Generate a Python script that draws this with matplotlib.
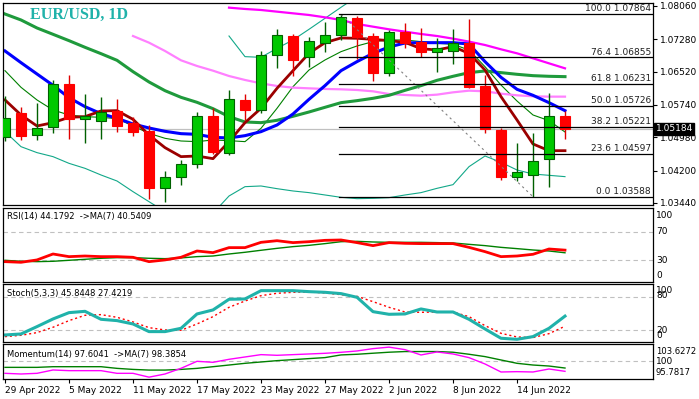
import matplotlib.pyplot as plt
import matplotlib.transforms as mtransforms
import numpy as np

plt.rcParams['font.family'] = 'DejaVu Sans'

nan = np.nan

# EUR/USD daily bars, 29 Apr - 17 Jun 2022
dates = ['29 Apr 2022', '5 May 2022', '11 May 2022', '17 May 2022', '23 May 2022',
         '27 May 2022', '2 Jun 2022', '8 Jun 2022', '14 Jun 2022']

opens = [1.0498, 1.0554, 1.0503, 1.0522, 1.0622, 1.0540, 1.0537, 1.0560, 1.0531, 1.0513,
         1.0378, 1.0406, 1.0435, 1.0548, 1.0462, 1.0586, 1.0561, 1.0691, 1.0736, 1.0686,
         1.0719, 1.0737, 1.0777, 1.0736, 1.0648, 1.0746, 1.0722, 1.0699, 1.0701, 1.0720,
         1.0618, 1.0515, 1.0406, 1.0410, 1.0447, 1.0548]
highs = [1.0594, 1.0570, 1.0578, 1.0633, 1.0644, 1.0599, 1.0593, 1.0588, 1.0546, 1.0527,
         1.0419, 1.0445, 1.0557, 1.0566, 1.0609, 1.0600, 1.0701, 1.0752, 1.0740, 1.0734,
         1.0769, 1.07864, 1.0783, 1.0742, 1.0750, 1.0765, 1.0754, 1.0730, 1.0751, 1.0775,
         1.0644, 1.0521, 1.0485, 1.0509, 1.0601, 1.0560]
lows = [1.0490, 1.0492, 1.0492, 1.0508, 1.0493, 1.0484, 1.0495, 1.0511, 1.0501, 1.0353,
        1.0347, 1.0386, 1.0427, 1.0459, 1.0457, 1.0539, 1.0554, 1.0661, 1.0642, 1.0664,
        1.0699, 1.0727, 1.0681, 1.0629, 1.0642, 1.0707, 1.0686, 1.0652, 1.0670, 1.0613,
        1.0508, 1.0398, 1.0396, 1.03588, 1.0381, 1.0493]
closes = [1.0543, 1.0500, 1.0519, 1.0622, 1.0540, 1.0548, 1.0558, 1.0525, 1.0511, 1.0378,
          1.0404, 1.0435, 1.0548, 1.0464, 1.0587, 1.0561, 1.0691, 1.0738, 1.0679, 1.0724,
          1.0738, 1.0780, 1.0734, 1.0648, 1.0746, 1.0720, 1.0697, 1.0707, 1.0719, 1.0617,
          1.0517, 1.0406, 1.0416, 1.0443, 1.0548, 1.05184]
last_price = 1.05184

# moving averages
ma_red = [1.05856, 1.05504, 1.05246, 1.05324, 1.05449, 1.05465, 1.05598, 1.05606, 1.05402, 1.05035,
          1.04738, 1.04527, 1.04542, 1.04480, 1.04879, 1.05324, 1.05660, 1.06129, 1.06543, 1.06950,
          1.07200, 1.07310, 1.07302, 1.07278, 1.07247, 1.07208, 1.07059, 1.07028, 1.07106, 1.06950,
          1.06559, 1.05934, 1.05387, 1.04824, 1.04667, 1.04667]
ma_blue = [1.07005, 1.06731, 1.06465, 1.06200, 1.05910, 1.05699, 1.05535, 1.05426, 1.05293, 1.05199,
           1.05121, 1.05066, 1.05050, 1.04980, 1.04965, 1.05019, 1.05113, 1.05269, 1.05527, 1.05871,
           1.06192, 1.06543, 1.06755, 1.06950, 1.07099, 1.07192, 1.07200, 1.07200, 1.07200, 1.07169,
           1.06755, 1.06387, 1.06106, 1.05965, 1.05793, 1.05605]
ma_green = [1.07872, 1.07732, 1.07544, 1.07396, 1.07247, 1.07091, 1.06942, 1.06786, 1.06520, 1.06278,
            1.06074, 1.05918, 1.05801, 1.05652, 1.05465, 1.05340, 1.05324, 1.05379, 1.05473, 1.05574,
            1.05684, 1.05793, 1.05840, 1.05895, 1.05965, 1.06082, 1.06192, 1.06317, 1.06411, 1.06497,
            1.06536, 1.06497, 1.06458, 1.06426, 1.06411, 1.06403]
ma_pink = [nan, nan, nan, nan, nan, nan, nan, nan, 1.07356, 1.07200,
           1.07005, 1.06786, 1.06653, 1.06543, 1.06418, 1.06325, 1.06246, 1.06184, 1.06145, 1.06129,
           1.06114, 1.06106, 1.06090, 1.06059, 1.05996, 1.05973, 1.05957, 1.05981, 1.06035, 1.06074,
           1.06059, 1.06004, 1.05965, 1.05942, 1.05934, 1.05934]
ma_magenta = [nan, nan, nan, nan, nan, nan, nan, nan, nan, nan,
              nan, nan, nan, nan, 1.08021, 1.07990, 1.07966, 1.07927, 1.07888, 1.07849,
              1.07794, 1.07732, 1.07638, 1.07575, 1.07513, 1.07458, 1.07403, 1.07356, 1.07294, 1.07224,
              1.07145, 1.07044, 1.06950, 1.06833, 1.06715, 1.06598]
ma_thin = [1.06543, 1.06153, 1.05856, 1.05621, 1.05504, 1.05465, 1.05449, 1.05418, 1.05246, 1.05074,
           1.04957, 1.04894, 1.04879, 1.04918, 1.04902, 1.04879, 1.05191, 1.05660, 1.06168, 1.06559,
           1.06794, 1.06989, 1.07122, 1.07224, 1.07263, 1.07263, 1.07224, 1.07185, 1.07161, 1.07028,
           1.06637, 1.06207, 1.05832, 1.05504, 1.05371, 1.05105]
band_up = [nan, nan, nan, nan, nan, nan, nan, nan, nan, nan,
           nan, nan, nan, nan, 1.07356, 1.06872, 1.06856, 1.07067, 1.07263, 1.07513,
           1.07771, 1.08029, 1.08279, nan, nan, nan, nan, nan, nan, nan,
           nan, nan, nan, nan, nan, nan]
band_lo = [1.05113, 1.04761, 1.04621, 1.04527, 1.04370, 1.04253, 1.04097, 1.03956, 1.03706, 1.03471,
           1.03237, 1.03041, 1.03002, 1.03198, 1.03604, 1.03823, 1.03839, 1.03776, 1.03722, 1.03683,
           1.03628, 1.03573, 1.03542, 1.03549, 1.03565, 1.03628, 1.03683, 1.03784, 1.03870, 1.04292,
           1.04542, 1.04394, 1.04214, 1.04120, 1.04089, 1.04058]

# fibonacci retracement, high 30 May -> low 15 Jun
fib_pct = ['100.0', '76.4', '61.8', '50.0', '38.2', '23.6', '0.0']
fib_lvl = [1.07864, 1.06855, 1.06231, 1.05726, 1.05221, 1.04597, 1.03588]
fib_from = 21
fib_to = 33

price_ticks = [1.03440, 1.04200, 1.04980, 1.05740, 1.06520, 1.07280, 1.08060]

rsi = [28.1, 27.2, 30.5, 38.8, 35.1, 36.0, 35.1, 35.1, 34.2, 28.1,
       30.5, 34.2, 43.0, 40.7, 47.7, 47.7, 55.1, 57.4, 54.7, 56.0,
       57.9, 58.4, 54.7, 50.5, 54.7, 53.7, 53.3, 53.3, 53.3, 48.1,
       42.1, 35.1, 36.0, 38.4, 45.8, 44.2]
rsi_ma = [30.0, 28.6, 28.1, 28.6, 30.0, 31.4, 32.8, 33.7, 33.7, 32.8,
          32.3, 33.3, 35.1, 36.0, 38.8, 41.2, 44.0, 46.7, 49.1, 50.9,
          53.3, 56.0, 56.5, 55.6, 55.1, 55.1, 55.1, 54.7, 54.2, 52.3,
          50.5, 48.1, 46.3, 44.4, 43.0, 40.5]
stoch_k = [11.5, 13.3, 26.7, 40.6, 52.1, 54.5, 40.0, 37.6, 31.5, 17.6,
           17.6, 23.6, 49.7, 57.0, 76.4, 77.0, 92.1, 92.1, 92.1, 90.3,
           89.1, 86.7, 80.0, 53.9, 49.1, 49.7, 58.8, 53.3, 53.3, 40.0,
           22.4, 5.5, 3.6, 8.5, 23.6, 45.8]
stoch_d = [8.5, 10.9, 15.8, 25.5, 37.6, 47.3, 48.5, 43.6, 35.2, 24.8,
           20.6, 20.0, 31.5, 44.8, 61.8, 73.3, 83.0, 87.3, 89.1, 89.7,
           87.9, 84.8, 81.8, 72.1, 61.8, 53.3, 52.7, 53.3, 53.3, 44.8,
           28.5, 14.5, 7.9, 6.7, 13.9, 27.4]
mom = [97.12, 96.96, 97.12, 97.92, 97.76, 97.76, 97.76, 97.12, 97.12, 96.2,
       96.96, 98.32, 100.0, 99.76, 100.48, 101.04, 101.6, 101.44, 101.6, 101.76,
       101.92, 102.16, 102.48, 103.04, 103.4, 102.8, 101.52, 102.24, 101.76, 100.88,
       99.36, 97.44, 97.52, 97.44, 98.16, 97.60]
mom_ma = [98.55, 98.55, 98.55, 98.71, 98.71, 98.71, 98.71, 98.31, 98.06, 97.90,
          97.90, 98.06, 98.31, 98.71, 99.11, 99.52, 99.84, 100.16, 100.40, 100.65,
          100.89, 101.53, 101.69, 101.94, 102.18, 102.34, 102.34, 102.34, 102.18, 101.69,
          101.13, 100.32, 99.52, 99.11, 98.87, 98.39]

x = np.arange(len(opens))
W, H = 699, 399
fs = 6.5
xlim = (-0.125, 40.5)


def panel(top, bottom):
    a = fig.add_axes([3 / W, 1 - bottom / H, 650 / W, (bottom - top) / H])
    a.set_xlim(*xlim)
    for s in a.spines.values():
        s.set_linewidth(0.9)
        s.set_color('black')
    a.set_xticks([])
    a.set_yticks([])
    return a


def rlabel(a, y, txt, frac=False, size=fs):
    tr = a.transAxes if frac else mtransforms.blended_transform_factory(a.transAxes, a.transData)
    a.text(1.0046, y, txt, transform=tr, fontsize=size, va='center', ha='left', clip_on=False)


fig = plt.figure(figsize=(W / 100, H / 100), dpi=100)

# main price window
ax = panel(3, 205)
ax.set_ylim(1.03393, 1.0813)

ax.axhline(last_price, color='#c0c0c0', lw=0.9, zorder=1)
ax.plot(x, band_lo, color='#12a889', lw=0.8, zorder=2)
ax.plot(x, band_up, color='#12a889', lw=0.8, zorder=2)
ax.plot(x, ma_thin, color='#008000', lw=0.8, zorder=2)
ax.plot(x, ma_pink, color='#ff80ff', lw=1.6, zorder=2)
ax.plot(x, ma_magenta, color='#ff00ff', lw=1.6, zorder=2)
ax.plot(x, ma_green, color='#1f9a3c', lw=2.2, zorder=2)
ax.plot(x, ma_blue, color='#0000ff', lw=2.2, zorder=2)
ax.plot(x, ma_red, color='#9b0000', lw=2.0, zorder=2)

for i in range(len(opens)):
    o, c = opens[i], closes[i]
    up = c >= o
    face = '#00c800' if up else '#ff0000'
    edge = '#006000' if up else '#ff0000'
    wick = '#006000' if up else '#e00000'
    ax.vlines(x[i], lows[i], highs[i], color=wick, lw=1.0, zorder=3)
    ax.bar(x[i], max(abs(c - o), 0.00008), bottom=min(o, c), width=0.68,
           color=face, edgecolor=edge, linewidth=0.8, zorder=4)

# fibo levels and trend line
ax.plot([fib_from, fib_to], [fib_lvl[0], fib_lvl[-1]], color='#808080', lw=0.8,
        ls=(0, (2, 3)), zorder=5)
for pct, lvl in zip(fib_pct, fib_lvl):
    ax.plot([fib_from - 0.13, xlim[1]], [lvl, lvl], color='black', lw=0.9, zorder=5)
    ax.text(xlim[1] - 0.12, lvl + 0.0002, pct + ' ' + '%.5f' % lvl, fontsize=fs,
            ha='right', va='bottom', color='#202020', zorder=6)

ax.yaxis.tick_right()
ax.set_yticks(price_ticks)
ax.set_yticklabels(['%.5f' % t for t in price_ticks])
ax.tick_params(axis='y', direction='out', length=3, width=0.8, labelsize=fs, pad=2)

blend = mtransforms.blended_transform_factory(ax.transAxes, ax.transData)
ax.text(1.004, last_price, '1.05184', transform=blend, fontsize=fs, color='white',
        va='center', ha='left', clip_on=False, zorder=10,
        bbox=dict(boxstyle='square,pad=0.18', fc='black', ec='black'))

ax.text(27 / 650, 0.94, 'EUR/USD, 1D', transform=ax.transAxes, fontsize=11.5,
        family='Liberation Serif', weight='bold', color='#20b2aa', va='center', ha='left')

# RSI window
ax_rsi = panel(208, 282)
ax_rsi.set_ylim(-0.35, 103.1)
for lv in [70, 30]:
    ax_rsi.axhline(lv, color='#c0c0c0', lw=0.8, ls=(0, (4, 3)))
ax_rsi.plot(x, rsi_ma, color='#008000', lw=1.0)
ax_rsi.plot(x, rsi, color='#ff0000', lw=2.0)
ax_rsi.text(4 / 650, 1 - 9 / 74, 'RSI(14) 44.1792  ->MA(7) 40.5409', transform=ax_rsi.transAxes,
            fontsize=6, va='center', ha='left')
rlabel(ax_rsi, 0.905, '100', frac=True)
rlabel(ax_rsi, 70, '70')
rlabel(ax_rsi, 30, '30')
rlabel(ax_rsi, 0.09, '0', frac=True)

# Stochastic window
ax_st = panel(284, 342)
ax_st.set_ylim(-1.3, 104.2)
for lv in [80, 20]:
    ax_st.axhline(lv, color='#c0c0c0', lw=0.8, ls=(0, (4, 3)))
ax_st.plot(x, stoch_d, color='#ff0000', lw=1.0, ls=(0, (1.5, 2)))
ax_st.plot(x, stoch_k, color='#20b2aa', lw=2.2)
ax_st.text(4 / 650, 1 - 9.5 / 58, 'Stoch(5,3,3) 45.8448 27.4219', transform=ax_st.transAxes,
           fontsize=6, va='center', ha='left')
rlabel(ax_st, 0.89, '100', frac=True)
rlabel(ax_st, 0.80, '80', frac=True)
rlabel(ax_st, 20, '20')
rlabel(ax_st, 0.11, '0', frac=True)

# Momentum window
ax_m = panel(344, 379)
ax_m.set_ylim(95.76, 104.15)
ax_m.axhline(100, color='#c0c0c0', lw=0.8, ls=(0, (4, 3)))
ax_m.plot(x, mom_ma, color='#008000', lw=1.0)
ax_m.plot(x, mom, color='#ff00ff', lw=1.0)
ax_m.text(4 / 650, 1 - 10 / 35, 'Momentum(14) 97.6041  ->MA(7) 98.3854', transform=ax_m.transAxes,
          fontsize=6, va='center', ha='left')
rlabel(ax_m, 0.78, '103.6272', frac=True, size=6.1)
rlabel(ax_m, 100, '100')
rlabel(ax_m, 0.18, '95.7817', frac=True, size=6.1)

ax_m.set_xticks(x[::4])
ax_m.set_xticklabels(dates, ha='left')
ax_m.tick_params(axis='x', direction='out', length=3, width=0.8, labelsize=fs, pad=2)

plt.savefig('out.png', dpi=100)
